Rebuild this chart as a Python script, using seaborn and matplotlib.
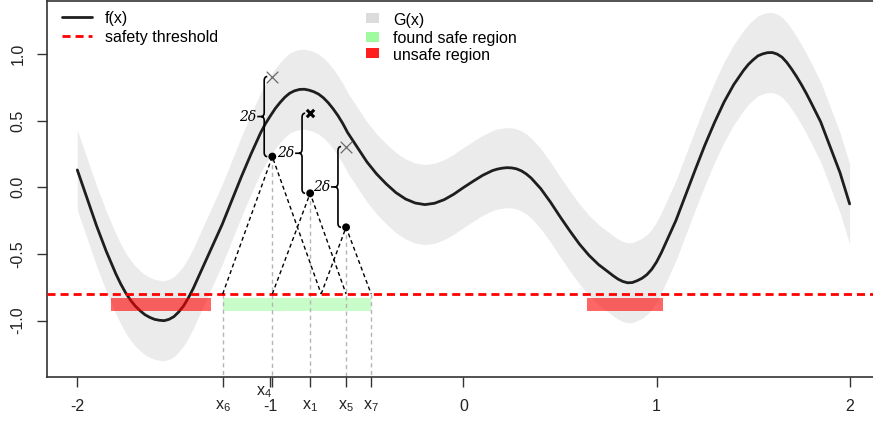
import numpy as np
import matplotlib
matplotlib.use("Agg")
import matplotlib.pyplot as plt
import seaborn as sns
from matplotlib.path import Path
from matplotlib.patches import PathPatch, Rectangle
from matplotlib.lines import Line2D

# ---------------- data ----------------
x_pts = [-2.00, -1.95, -1.90, -1.85, -1.80, -1.775, -1.75, -1.725, -1.70, -1.675,
         -1.65, -1.625, -1.60, -1.575, -1.55, -1.525, -1.50, -1.475, -1.45, -1.425,
         -1.40, -1.35, -1.30, -1.25, -1.20, -1.15, -1.10, -1.05, -1.025, -1.00,
         -0.975, -0.95, -0.925, -0.90, -0.875, -0.85, -0.825, -0.80, -0.775, -0.75,
         -0.725, -0.70, -0.675, -0.65, -0.625, -0.60, -0.55, -0.50, -0.45, -0.40,
         -0.35, -0.30, -0.25, -0.20, -0.15, -0.10, -0.05, 0.00, 0.05, 0.10,
         0.15, 0.175, 0.20, 0.225, 0.25, 0.275, 0.30, 0.325, 0.35, 0.40,
         0.45, 0.50, 0.55, 0.60, 0.65, 0.70, 0.75, 0.775, 0.80, 0.825,
         0.85, 0.875, 0.90, 0.925, 0.95, 0.975, 1.00, 1.025, 1.05, 1.10, 1.15,
         1.20, 1.25, 1.30, 1.35, 1.40, 1.45, 1.475, 1.50, 1.525, 1.55,
         1.575, 1.60, 1.625, 1.65, 1.675, 1.70, 1.725, 1.75, 1.775, 1.80, 1.85, 1.90,
         1.95, 2.00]
f_vals = [0.13, -0.08, -0.29, -0.48, -0.65, -0.725, -0.79, -0.845, -0.89, -0.925,
          -0.955, -0.975, -0.99, -0.997, -1.0, -0.99, -0.97, -0.935, -0.89, -0.83,
          -0.76, -0.60, -0.44, -0.28, -0.10, 0.08, 0.25, 0.41, 0.478, 0.535,
          0.59, 0.635, 0.675, 0.705, 0.723, 0.733, 0.735, 0.728, 0.716, 0.698,
          0.670, 0.633, 0.588, 0.537, 0.478, 0.41, 0.30, 0.19, 0.10, 0.025,
          -0.04, -0.088, -0.118, -0.13, -0.12, -0.093, -0.052, -0.002, 0.045, 0.09,
          0.125, 0.136, 0.143, 0.147, 0.145, 0.138, 0.123, 0.10, 0.07, -0.01,
          -0.11, -0.22, -0.325, -0.425, -0.51, -0.58, -0.635, -0.663, -0.688, -0.706,
          -0.716, -0.714, -0.70, -0.682, -0.655, -0.615, -0.56, -0.49, -0.41, -0.25, -0.06,
          0.13, 0.315, 0.485, 0.64, 0.77, 0.875, 0.92, 0.955, 0.985, 1.0,
          1.009, 1.01, 0.998, 0.975, 0.935, 0.885, 0.83, 0.77, 0.705, 0.635, 0.49, 0.30,
          0.11, -0.125]
delta = 0.3
threshold = -0.8

query_names = ["x4", "x1", "x5"]
query_x = [-0.99, -0.794, -0.608]
query_lower = [0.23, -0.045, -0.30]
query_upper = [0.83, 0.555, 0.305]
query_bold = [False, True, False]
cone_left = [-1.247, -0.99, -0.737]
cone_right = [-0.737, -0.608, -0.478]

safe_names = ["x6", "x7"]
safe_region = [-1.247, -0.478]
unsafe_regions = [(-1.828, -1.307), (0.642, 1.034)]
bar_top, bar_bottom = -0.828, -0.927

xtick_vals = [-2, -1, 0, 1, 2]
ytick_vals = [-1.0, -0.5, 0.0, 0.5, 1.0]
named_ticks = {"x6": -1.247, "x4": -0.99, "x1": -0.794, "x5": -0.608, "x7": -0.478}

# ---------------- style ----------------
sns.set_theme(style="ticks")
plt.rcParams["font.family"] = ["Liberation Sans", "DejaVu Sans"]
plt.rcParams["mathtext.fontset"] = "custom"
plt.rcParams["mathtext.rm"] = "Liberation Sans"
plt.rcParams["mathtext.it"] = "Liberation Sans:italic"

W, H = 873, 421
fig = plt.figure(figsize=(W / 100, H / 100), dpi=100)
ax = fig.add_axes([46.5 / W, 1 - 376.7 / H, (W - 46.5) / W, (376.7 - 0.5) / H])
ax.set_xlim(-2.1595, 2.121)
ax.set_ylim(-1.42, 1.40)

x_arr = np.array(x_pts)
f_arr = np.array(f_vals)
ax.fill_between(x_arr, f_arr - delta, f_arr + delta, color="#EBEBEB", lw=0, zorder=1)
sns.lineplot(x=x_arr, y=f_arr, ax=ax, color="#1E1E1E", lw=2.0, sort=False, zorder=3)

# regions
ax.add_patch(Rectangle((safe_region[0], bar_bottom), safe_region[1] - safe_region[0],
                       bar_top - bar_bottom, facecolor="#C8FCC8", edgecolor="none", zorder=2))
for a, b in unsafe_regions:
    ax.add_patch(Rectangle((a, bar_bottom), b - a, bar_top - bar_bottom,
                           facecolor="red", alpha=0.6, edgecolor="none", zorder=4))

ax.axhline(threshold, color="red", lw=2, dashes=(2.9, 1.8), zorder=5)

ybot = ax.get_ylim()[0]
# gray vertical guides
for xv in safe_region:
    ax.plot([xv, xv], [threshold, ybot], color="#B4B4B4", lw=1, dashes=(3, 2.5), zorder=2.5)
for xv, yv in zip(query_x, query_lower):
    ax.plot([xv, xv], [yv, ybot], color="#B4B4B4", lw=1, dashes=(3, 2.5), zorder=2.5)

# Lipschitz cones
for xv, yv, cl, cr in zip(query_x, query_lower, cone_left, cone_right):
    ax.plot([cl, xv, cr], [threshold, yv, threshold], color="black", lw=1,
            dashes=(2.9, 2.2), zorder=5)

# points
sns.scatterplot(x=query_x, y=query_lower, ax=ax, color="black", s=32,
                edgecolor="none", zorder=7, legend=False)
for xv, yv, bold in zip(query_x, query_upper, query_bold):
    if bold:
        ax.scatter([xv], [yv], marker="x", s=28, linewidths=2.2, color="black", zorder=7)
    else:
        ax.scatter([xv], [yv], marker="x", s=70, linewidths=0.9, color="#6A6A6A", zorder=7)

# braces
def brace(x, y0, y1):
    c = 0.016
    h = 0.03
    w = 0.036
    ym = 0.5 * (y0 + y1)
    verts = [(x + c, y1), (x, y1), (x, y1 - h), (x, ym + h), (x, ym), (x - c, ym),
             (x - w, ym),
             (x - c, ym), (x, ym), (x, ym - h), (x, y0 + h), (x, y0), (x + c, y0)]
    codes = [Path.MOVETO, Path.CURVE3, Path.CURVE3, Path.LINETO, Path.CURVE3, Path.CURVE3,
             Path.LINETO,
             Path.MOVETO, Path.CURVE3, Path.CURVE3, Path.LINETO, Path.CURVE3, Path.CURVE3]
    ax.add_patch(PathPatch(Path(verts, codes), fill=False, lw=1.2, color="black", zorder=6))
    ax.text(x - w - 0.006, ym, "2δ", ha="right", va="center", fontsize=10,
            family="DejaVu Serif", style="italic", color="black", zorder=8)

for xv, y0, y1 in zip(query_x, query_lower, query_upper):
    brace(xv - 0.042, y0, y1)

# axes / ticks
all_ticks = xtick_vals + list(named_ticks.values())
ax.set_xticks(all_ticks)
ax.set_xticklabels([str(v) for v in xtick_vals] + [""] * len(named_ticks))
ax.set_yticks(ytick_vals)
ax.set_yticklabels([f"{v:.1f}" for v in ytick_vals], rotation=90, va="center")
ax.tick_params(axis="both", direction="out", length=7.2, width=1.0, color="#333333",
               labelsize=11.5, labelcolor="#222222", bottom=True, left=True)
ax.tick_params(axis="x", pad=9)
ax.tick_params(axis="y", pad=8)
for s in ["left", "bottom", "top"]:
    ax.spines[s].set_color("#333333")
    ax.spines[s].set_linewidth(1.2)
ax.spines["right"].set_visible(False)

trans = ax.get_xaxis_transform()
for name, xv in named_ticks.items():
    sub = name[1:]
    if name == "x4":
        ax.text(xv - 0.044, -0.040, rf"$\mathregular{{x_{sub}}}$", transform=trans,
                ha="center", va="center", fontsize=11.5, color="#222222", clip_on=False)
    else:
        ax.text(xv, -0.078, rf"$\mathregular{{x_{sub}}}$", transform=trans,
                ha="center", va="center", fontsize=11.5, color="#222222", clip_on=False)

# legends (drawn in figure pixel coordinates)
def P(x, y):
    return x / W, 1 - y / H

for (y, col, dash) in [(16.7, "#1E1E1E", None), (35.5, "red", (2.9, 1.8))]:
    (x0, y0), (x1, _) = P(62, y), P(92, y)
    ln = Line2D([x0, x1], [y0, y0], color=col, lw=2, transform=fig.transFigure)
    if dash:
        ln.set_dashes(dash)
    fig.add_artist(ln)
for y, t in [(18.5, "f(x)"), (37.5, "safety threshold")]:
    fig.text(*P(105, y), t, ha="left", va="center", fontsize=11.5, color="black")

for (y0, y1, col), t in zip([(12.7, 23.3, "#DCDCDC"), (31.7, 41.7, "#A0FAA0"),
                             (48.3, 58.3, "#FF1E1E")],
                            ["G(x)", "found safe region", "unsafe region"]):
    xa, ya = P(366, y1)
    fig.add_artist(Rectangle((xa, ya), 13.3 / W, (y1 - y0) / H, facecolor=col,
                             edgecolor="none", transform=fig.transFigure))
    fig.text(*P(393, 0.5 * (y0 + y1) + 2), t, ha="left", va="center", fontsize=11.5,
             color="black")

fig.savefig("out.png", dpi=100)
